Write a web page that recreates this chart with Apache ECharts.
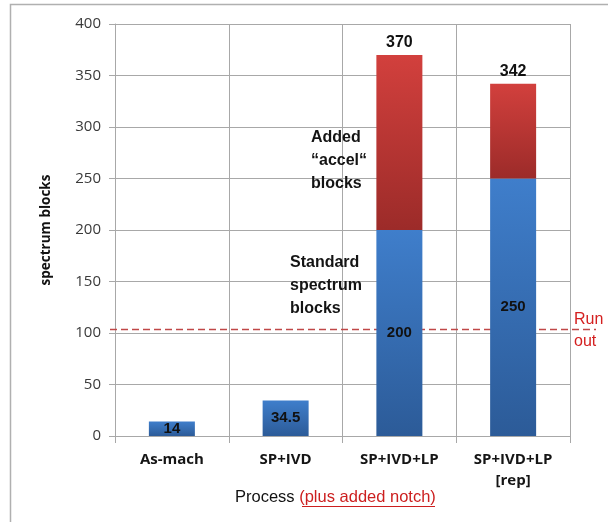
<!DOCTYPE html>
<html>
<head>
<meta charset="utf-8">
<script src="https://cdn.jsdelivr.net/npm/echarts@6/dist/echarts.min.js"></script>
<style>
  html, body { margin: 0; padding: 0; background: #ffffff; }
  #chart { width: 608px; height: 522px; }
</style>
</head>
<body>
<div id="chart"></div>
<script>
// Spectrum block counts per process route
const categories = ['As-mach', 'SP+IVD', 'SP+IVD+LP', 'SP+IVD+LP\n[rep]'];
const standardBlocks = [14, 34.5, 200, 250];
const accelBlocks = [null, null, 170, 92];
const totalBlocks = [null, null, 370, 342];
const runOutLevel = 104;
const yMin = 0, yMax = 400, yStep = 50;

const chart = echarts.init(document.getElementById('chart'), null, { renderer: 'canvas' });

function vGrad(top, bottom) {
  return new echarts.graphic.LinearGradient(0, 0, 0, 1, [
    { offset: 0, color: top },
    { offset: 1, color: bottom }
  ]);
}

const gridColor = '#a8a8a8';

chart.setOption({
  animation: false,
  backgroundColor: '#ffffff',
  grid: { left: 115, right: 38, top: 24, bottom: 86, containLabel: false },
  xAxis: {
    type: 'category',
    data: categories,
    boundaryGap: true,
    axisLine: { show: true, lineStyle: { color: gridColor, width: 1 } },
    axisTick: { show: true, alignWithLabel: false, length: 7, lineStyle: { color: gridColor } },
    splitLine: { show: true, lineStyle: { color: gridColor, width: 1 } },
    axisLabel: {
      margin: 13,
      fontFamily: 'Open Sans',
      fontWeight: 'bold',
      fontSize: 15,
      lineHeight: 21,
      color: '#151515'
    }
  },
  yAxis: {
    type: 'value',
    min: yMin,
    max: yMax,
    interval: yStep,
    name: 'spectrum blocks',
    nameLocation: 'middle',
    nameGap: 62,
    nameRotate: 90,
    nameTextStyle: { fontFamily: 'Open Sans', fontWeight: 'bold', fontSize: 13.5, color: '#111111' },
    axisLine: { show: true, lineStyle: { color: gridColor, width: 1 } },
    axisTick: { show: true, length: 6, lineStyle: { color: gridColor } },
    splitLine: { show: true, lineStyle: { color: gridColor, width: 1 } },
    axisLabel: {
      margin: 14,
      fontFamily: 'Open Sans',
      fontSize: 15,
      color: '#3a3a3a'
    }
  },
  series: [
    {
      name: 'Standard spectrum blocks',
      type: 'bar',
      stack: 'blocks',
      barWidth: 46,
      z: 2,
      data: standardBlocks,
      itemStyle: { color: vGrad('#3f7ecb', '#2c5b98') },
      label: {
        show: true,
        position: 'inside',
        fontFamily: 'Liberation Sans',
        fontWeight: 'bold',
        fontSize: 15,
        color: '#111111'
      }
    },
    {
      name: 'Added accel blocks',
      type: 'bar',
      stack: 'blocks',
      barWidth: 46,
      z: 2,
      data: accelBlocks,
      itemStyle: { color: vGrad('#d2403d', '#9c2b29') },
      label: {
        show: true,
        position: 'top',
        distance: 4,
        fontFamily: 'Liberation Sans',
        fontWeight: 'bold',
        fontSize: 16,
        color: '#111111',
        formatter: p => (totalBlocks[p.dataIndex] == null ? '' : String(totalBlocks[p.dataIndex]))
      }
    }
  ]
});

// Overlay: frame, run-out threshold, annotations, axis title
function drawOverlay() {
  const left = chart.convertToPixel({ gridIndex: 0 }, [0, runOutLevel]);
  const yRun = Math.round(left[1]) + 0.5;
  const axisBase = chart.convertToPixel({ gridIndex: 0 }, [0, 0])[1];
  const txt = { fontFamily: 'Liberation Sans', fontWeight: 'bold', fontSize: 16, fill: '#141414', lineHeight: 23 };

  chart.setOption({
    graphic: [
      {
        type: 'rect', silent: true, z: -10,
        shape: { x: 10.5, y: 4.5, width: 700, height: 700 },
        style: { fill: null, stroke: '#b0b0b0', lineWidth: 1.5 }
      },
      {
        // threshold sits over the bars but under their value labels
        type: 'line', silent: true, z: 2, z2: 0.5,
        shape: { x1: 110, y1: yRun, x2: 596, y2: yRun },
        style: { stroke: '#c04848', lineWidth: 1.5, lineDash: [7, 4] }
      },
      {
        type: 'text', silent: true, z: 50,
        x: 574, y: yRun - 21,
        style: { text: 'Run\nout', fontFamily: 'Liberation Sans', fontSize: 16, lineHeight: 22, fill: '#d42020' }
      },
      {
        type: 'text', silent: true, z: 50,
        x: 311, y: 126,
        style: Object.assign({ text: 'Added\n\u201Caccel\u201C\nblocks' }, txt)
      },
      {
        type: 'text', silent: true, z: 50,
        x: 290, y: 251,
        style: Object.assign({ text: 'Standard\nspectrum\nblocks' }, txt)
      },
      {
        type: 'text', silent: true, z: 50,
        x: 235, y: axisBase + 53,
        style: {
          text: '{b|Process }{r|(plus added notch)}',
          rich: {
            b: { fontFamily: 'Liberation Sans', fontSize: 16.5, fill: '#111111' },
            r: { fontFamily: 'Liberation Sans', fontSize: 16.5, fill: '#cc1f1f' }
          }
        }
      },
      {
        type: 'line', silent: true, z: 50,
        shape: { x1: 302, y1: axisBase + 70.5, x2: 435, y2: axisBase + 70.5 },
        style: { stroke: '#cc1f1f', lineWidth: 1 }
      }
    ]
  });
}
drawOverlay();
</script>
</body>
</html>
